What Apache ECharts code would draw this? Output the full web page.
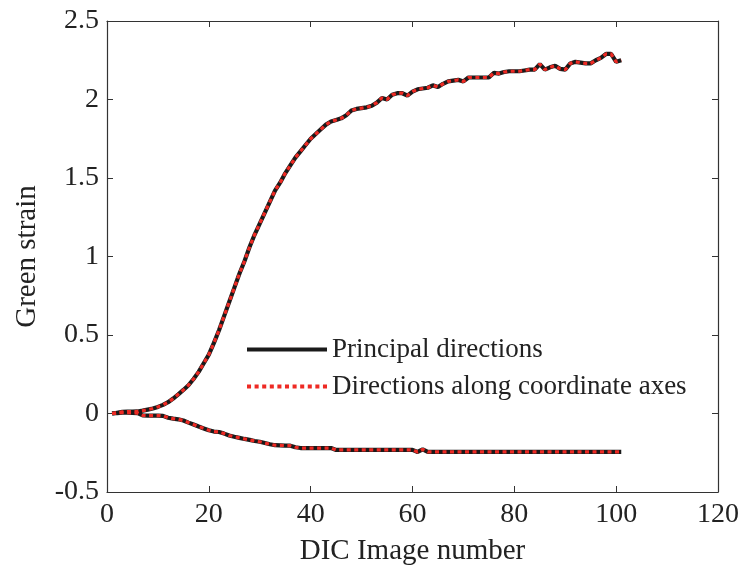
<!DOCTYPE html>
<html>
<head>
<meta charset="utf-8">
<script src="https://cdn.jsdelivr.net/npm/echarts@6/dist/echarts.min.js"></script>
<style>html,body{margin:0;padding:0;background:#fff;}#c{width:746px;height:569px;}</style>
</head>
<body>
<div id="c"></div>
<script>
// Image numbers 1..101
const imageNumbers = [];
for (let i = 1; i <= 101; i++) imageNumbers.push(i);

// Upper strain curve (major)
const upperStrain = [
  0, 0.005, 0.01, 0.012, 0.012, 0.013, 0.018, 0.025, 0.032, 0.042,
  0.055, 0.072, 0.095, 0.122, 0.15, 0.18, 0.22, 0.265, 0.32, 0.375,
  0.45, 0.53, 0.62, 0.71, 0.8, 0.89, 0.97, 1.06, 1.14, 1.21,
  1.28, 1.35, 1.42, 1.47, 1.53, 1.58, 1.63, 1.67, 1.71, 1.75,
  1.78, 1.81, 1.84, 1.86, 1.87, 1.88, 1.9, 1.93, 1.94, 1.945,
  1.95, 1.96, 1.98, 2.01, 2.0, 2.03, 2.04, 2.04, 2.025, 2.05,
  2.065, 2.07, 2.075, 2.09, 2.08, 2.1, 2.115, 2.12, 2.125, 2.115,
  2.14, 2.14, 2.14, 2.14, 2.14, 2.17, 2.165, 2.175, 2.18, 2.18,
  2.18, 2.185, 2.19, 2.19, 2.225, 2.19, 2.205, 2.215, 2.195, 2.19,
  2.23, 2.24, 2.235, 2.23, 2.23, 2.25, 2.265, 2.29, 2.29, 2.24,
  2.25
];

// Lower strain curve (minor)
const lowerStrain = [
  0, 0.003, 0.005, 0.005, 0.004, 0.002, -0.012, -0.013, -0.013, -0.013,
  -0.015, -0.027, -0.033, -0.037, -0.045, -0.058, -0.07, -0.083, -0.095, -0.107,
  -0.115, -0.118, -0.128, -0.14, -0.148, -0.155, -0.162, -0.168, -0.175, -0.18,
  -0.188, -0.196, -0.202, -0.203, -0.204, -0.205, -0.215, -0.22, -0.22, -0.22,
  -0.22, -0.22, -0.22, -0.22, -0.232, -0.232, -0.232, -0.232, -0.232, -0.232,
  -0.232, -0.232, -0.232, -0.232, -0.232, -0.232, -0.232, -0.232, -0.232, -0.232,
  -0.245, -0.228, -0.245, -0.245, -0.245, -0.245, -0.245, -0.245, -0.245, -0.245,
  -0.245, -0.245, -0.245, -0.245, -0.245, -0.245, -0.245, -0.245, -0.245, -0.245,
  -0.245, -0.245, -0.245, -0.245, -0.245, -0.245, -0.245, -0.245, -0.245, -0.245,
  -0.245, -0.245, -0.245, -0.245, -0.245, -0.245, -0.245, -0.245, -0.245, -0.245,
  -0.245
];

const seriesNames = ['Principal directions', 'Directions along coordinate axes'];
const xTicks = { min: 0, max: 120, interval: 20 };
const yTicks = { min: -0.5, max: 2.5, interval: 0.5 };

const pairs = arr => imageNumbers.map((x, i) => [x, arr[i]]);

const FONT = '"Liberation Serif", "DejaVu Serif", serif';
const TXT = '#222';
const AX = '#333';
const BLACK = '#1a1a1a';
const RED = '#ee2a24';

// legend icons (styling only)
const solidIcon = 'path://M0,0h80v4h-80z';
let dotPath = 'path://';
for (let p = 0; p < 80; p += 7.5) dotPath += 'M' + p + ',0h4v4h-4z';
const dottedIcon = dotPath;

const chart = echarts.init(document.getElementById('c'), null, { renderer: 'canvas' });

const baseAxisLine = { show: true, onZero: false, lineStyle: { color: AX, width: 1.2 } };
const tickIn = { show: true, inside: true, length: 6, lineStyle: { color: AX, width: 1 } };

const solid = { color: BLACK, width: 4.2, type: 'solid' };
const dotted = { color: RED, width: 3.2, type: [4, 3.5] };

chart.setOption({
  animation: false,
  backgroundColor: '#fff',
  grid: { left: 107, right: 28, top: 21, bottom: 77, containLabel: false, outerBoundsMode: 'none' },
  legend: {
    orient: 'vertical',
    left: 242,
    top: 331,
    itemWidth: 80,
    itemHeight: 14,
    itemGap: 10,
    textStyle: { fontFamily: FONT, fontSize: 27, color: TXT },
    data: [
      { name: seriesNames[0], icon: solidIcon },
      { name: seriesNames[1], icon: dottedIcon }
    ]
  },
  xAxis: [
    {
      type: 'value', min: xTicks.min, max: xTicks.max, interval: xTicks.interval,
      name: 'DIC Image number', nameLocation: 'middle', nameGap: 45,
      nameTextStyle: { fontFamily: FONT, fontSize: 29, color: TXT },
      axisLine: baseAxisLine, axisTick: tickIn,
      axisLabel: { fontFamily: FONT, fontSize: 28, color: TXT, margin: 9 },
      splitLine: { show: false }
    },
    {
      type: 'value', position: 'top', min: xTicks.min, max: xTicks.max, interval: xTicks.interval,
      axisLine: baseAxisLine, axisTick: tickIn, axisLabel: { show: false }, splitLine: { show: false }
    }
  ],
  yAxis: [
    {
      type: 'value', min: yTicks.min, max: yTicks.max, interval: yTicks.interval,
      name: 'Green strain', nameLocation: 'middle', nameGap: 65, nameRotate: 90,
      nameTextStyle: { fontFamily: FONT, fontSize: 29, color: TXT },
      axisLine: baseAxisLine, axisTick: tickIn,
      axisLabel: { fontFamily: FONT, fontSize: 28, color: TXT, margin: 8 },
      splitLine: { show: false }
    },
    {
      type: 'value', position: 'right', min: yTicks.min, max: yTicks.max, interval: yTicks.interval,
      axisLine: baseAxisLine, axisTick: tickIn, axisLabel: { show: false }, splitLine: { show: false }
    }
  ],
  series: [
    { name: seriesNames[0], type: 'line', data: pairs(upperStrain), showSymbol: false, symbol: 'none', lineStyle: solid, itemStyle: { color: BLACK }, z: 2 },
    { name: seriesNames[0], type: 'line', data: pairs(lowerStrain), showSymbol: false, symbol: 'none', lineStyle: solid, itemStyle: { color: BLACK }, z: 2 },
    { name: seriesNames[1], type: 'line', data: pairs(upperStrain), showSymbol: false, symbol: 'none', lineStyle: dotted, itemStyle: { color: RED }, z: 3 },
    { name: seriesNames[1], type: 'line', data: pairs(lowerStrain), showSymbol: false, symbol: 'none', lineStyle: dotted, itemStyle: { color: RED }, z: 3 }
  ]
});
</script>
</body>
</html>
